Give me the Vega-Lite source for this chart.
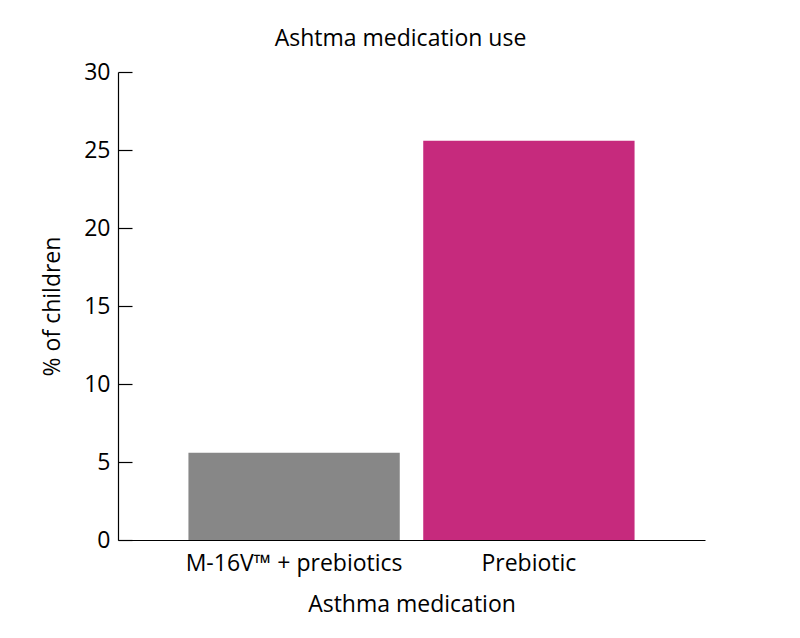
{
  "$schema": "https://vega.github.io/schema/vega-lite/v6.json",
  "autosize": {"type": "none"},
  "width": 587,
  "height": 468,
  "padding": {"left": 118, "top": 72, "right": 95, "bottom": 98},
  "background": "white",
  "title": {"text": "Ashtma medication use", "font": "Open Sans", "fontSize": 23, "fontWeight": "normal", "color": "black", "offset": 10, "dx": -11},
  "data": {
    "values": [
      {"medication": "M-16V™ + prebiotics", "percent": 5.6},
      {"medication": "Prebiotic", "percent": 25.6}
    ]
  },
  "mark": {"type": "bar"},
  "encoding": {
    "x": {
      "field": "medication",
      "type": "nominal",
      "sort": null,
      "title": "Asthma medication",
      "scale": {"paddingInner": 0.1, "paddingOuter": 0.3},
      "axis": {"labelAngle": 0, "ticks": false, "labelPadding": 12, "titlePadding": 18, "labelLimit": 0}
    },
    "y": {
      "field": "percent",
      "type": "quantitative",
      "title": "% of children",
      "scale": {"domain": [0, 30]},
      "axis": {"values": [0, 5, 10, 15, 20, 25, 30], "tickSize": -14, "labelPadding": 22, "titlePadding": 19}
    },
    "color": {
      "field": "medication",
      "type": "nominal",
      "scale": {"domain": ["M-16V™ + prebiotics", "Prebiotic"], "range": ["#878787", "#C62A7D"]},
      "legend": null
    }
  },
  "config": {
    "view": {"stroke": null},
    "axis": {
      "grid": false,
      "domainColor": "black",
      "domainWidth": 1.2,
      "tickColor": "black",
      "tickWidth": 1.2,
      "labelFont": "Open Sans",
      "labelFontSize": 23,
      "labelColor": "black",
      "titleFont": "Open Sans",
      "titleFontSize": 23,
      "titleFontWeight": "normal",
      "titleColor": "black"
    }
  }
}
